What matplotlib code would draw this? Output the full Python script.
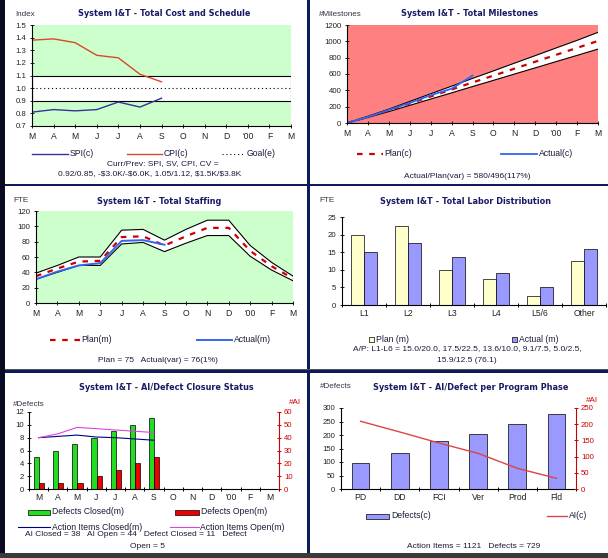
import matplotlib
matplotlib.use('Agg')
import matplotlib.pyplot as plt
from matplotlib.lines import Line2D
from matplotlib.patches import Rectangle
import numpy as np

W, H = 608, 558

months = ['M', 'A', 'M', 'J', 'J', 'A', 'S', 'O', 'N', 'D', "'00", 'F', 'M']

# cost / schedule indices, Mar-Sep
spi = [0.81, 0.83, 0.82, 0.83, 0.89, 0.85, 0.92]
cpi = [1.38, 1.39, 1.36, 1.26, 1.24, 1.11, 1.05]
goal = 1.0
goal_band = (0.9, 1.1)

# milestones (cumulative)
ms_plan = [0, 75, 155, 240, 325, 410, 496, 580, 665, 750, 835, 920, 1005]
ms_upper = [0, 83, 170, 264, 358, 451, 546, 638, 732, 825, 919, 1012, 1110]
ms_lower = [0, 68, 140, 216, 293, 369, 446, 522, 599, 675, 752, 828, 905]
ms_actual = [0, 75, 160, 245, 340, 420, 580]

# staffing (FTE)
st_plan = [35, 45, 54, 55, 86, 87, 75, 87, 98, 98, 68, 48, 32]
st_upper = [39, 49, 60, 60, 95, 96, 82, 96, 108, 108, 75, 53, 35]
st_lower = [31, 40, 49, 49, 77, 79, 67, 78, 88, 88, 61, 43, 29]
st_actual = [31, 41, 49, 52, 81, 82, 76]

# labor distribution (FTE)
labor_cats = ['L1', 'L2', 'L3', 'L4', 'L5/6', 'Other']
labor_plan = [20.0, 22.5, 10.0, 7.5, 2.5, 12.5]
labor_actual = [15.0, 17.5, 13.6, 9.1, 5.0, 15.9]

# AI / defect closure, Mar-Sep
def_closed = [5, 6, 7, 8, 9, 10, 11]
def_open = [1, 1, 1, 2, 3, 4, 5]
ai_closed = [40, 41, 42, 40.5, 40, 39, 38]
ai_open = [40, 43, 48, 47, 46, 45, 44]

# AI / defects per phase
phases = ['PD', 'DD', 'FCI', 'Ver', 'Prod', 'Fld']
phase_defects = [95, 135, 177, 203, 239, 277]
phase_ai = [209, 176, 142, 110, 64, 33]

TITLE_C = '#1a1a66'
TEXT_C = '#1a1a3a'
GREEN_BG = '#ccffcc'
SALMON_BG = '#ff8080'
PLAN_RED = '#cc0000'
ACT_BLUE = '#3366ee'

plt.rcParams['font.family'] = ['Liberation Sans', 'DejaVu Sans']

fig = plt.figure(figsize=(W / 100, H / 100), dpi=100)
fig.patch.set_facecolor('white')


def px_axes(left, top, right, bottom):
    return fig.add_axes([left / W, 1 - bottom / H, (right - left) / W, (bottom - top) / H])


def style_axes(ax, face='white', xpad=3, ypad=2.5):
    ax.set_facecolor(face)
    for s in ['top', 'right']:
        ax.spines[s].set_visible(False)
    for s in ['left', 'bottom']:
        ax.spines[s].set_linewidth(0.8)
    ax.tick_params(direction='inout', length=3, width=0.7, colors='#222222')
    ax.tick_params(axis='y', labelsize=5.6, pad=ypad)
    ax.tick_params(axis='x', labelsize=6.2, pad=xpad)


def category_ticks(ax, labels):
    n = len(labels)
    ax.set_xlim(-0.5, n - 0.5)
    ax.set_xticks(range(n))
    ax.set_xticklabels(labels)
    ax.set_xticks(np.arange(-0.5, n, 1.0), minor=True)
    ax.tick_params(axis='x', which='major', length=0)
    ax.tick_params(axis='x', which='minor', direction='inout', length=3, width=0.7)


def red_axis(ax):
    for s in ['top', 'left', 'bottom']:
        ax.spines[s].set_visible(False)
    ax.spines['right'].set_color('#cc0000')
    ax.spines['right'].set_linewidth(0.8)
    ax.tick_params(direction='inout', length=3, width=0.7, colors='#cc0000',
                   labelsize=5.6, pad=2)


# overlay for frames, titles and legends (pixel coordinates)
ov = fig.add_axes([0, 0, 1, 1])
ov.set_xlim(0, W)
ov.set_ylim(H, 0)
ov.axis('off')
ov.set_zorder(10)


def title(x, y, s):
    ov.text(x, y, s, ha='center', va='center', fontsize=5.9, fontweight='bold',
            color=TITLE_C, family='DejaVu Sans')


def label(x, y, s, ha='left', color='#333344', size=5.8):
    ov.text(x, y, s, ha=ha, va='center', fontsize=size, color=color)


def note(x, y, s, ha='center', size=6.0):
    ov.text(x, y, s, ha=ha, va='center', fontsize=size, color=TEXT_C)


def leg_line(x0, x1, y, s, **kw):
    ov.add_line(Line2D([x0, x1], [y, y], **kw))
    note(x1 + 1.5, y, s, ha='left', size=6.2)


def leg_box(x0, x1, y, h, s, color):
    ov.add_patch(Rectangle((x0, y - h / 2), x1 - x0, h, facecolor=color,
                           edgecolor='black', linewidth=0.5))
    note(x1 + 2, y, s, ha='left', size=6.2)


# ---- Total Cost and Schedule ----
ax1 = px_axes(32, 25, 291, 126)
style_axes(ax1, GREEN_BG)
ax1.axhspan(goal_band[0], goal_band[1], facecolor='white', edgecolor='black', linewidth=0.8)
ax1.axhline(goal, color='black', linestyle=(0, (1, 2.5)), linewidth=0.8)
x7 = np.arange(len(spi))
ax1.plot(x7, spi, color='#333399', linewidth=1.0)
ax1.plot(x7, cpi, color='#d9482b', linewidth=1.0)
ax1.set_xlim(0, 12)
ax1.set_ylim(0.7, 1.5)
ax1.set_yticks(np.arange(0.7, 1.51, 0.1))
ax1.set_yticklabels(['%.1f' % v for v in np.arange(0.7, 1.51, 0.1)])
ax1.set_xticks(range(13))
ax1.set_xticklabels(months)

title(164, 14, 'System I&T - Total Cost and Schedule')
label(15, 14, 'Index')
leg_line(32, 68, 154, 'SPI(c)', color='#333399', linewidth=1.0)
leg_line(127, 162, 154, 'CPI(c)', color='#d9482b', linewidth=1.0)
leg_line(222, 245, 154, 'Goal(e)', color='black', linewidth=0.8, linestyle=(0, (1, 2.5)))
note(163, 164, 'Curr/Prev: SPI, SV, CPI, CV =')
note(150, 174, r'0.92/0.85, -\$3.0K/-\$6.0K, 1.05/1.12, \$1.5K/\$3.8K')

# ---- Total Milestones ----
ax2 = px_axes(347, 25, 598, 123)
style_axes(ax2, SALMON_BG)
x13 = np.arange(13)
ax2.fill_between(x13, ms_lower, ms_upper, facecolor='white', edgecolor='none')
ax2.plot(x13, ms_upper, color='black', linewidth=0.8)
ax2.plot(x13, ms_lower, color='black', linewidth=0.8)
ax2.plot(x13, ms_plan, color=PLAN_RED, linewidth=1.6, linestyle=(0, (2.5, 3)))
ax2.plot(np.arange(len(ms_actual)), ms_actual, color=ACT_BLUE, linewidth=1.3)
ax2.set_xlim(0, 12)
ax2.set_ylim(0, 1200)
ax2.set_yticks(range(0, 1201, 200))
ax2.set_xticks(range(13))
ax2.set_xticklabels(months)

title(470, 14, 'System I&T - Total Milestones')
label(319, 14, '#Milestones')
leg_line(357, 383, 154, 'Plan(c)', color=PLAN_RED, linewidth=1.6, linestyle=(0, (2.5, 3)))
leg_line(501, 537, 154, 'Actual(c)', color=ACT_BLUE, linewidth=1.3)
note(467, 176, 'Actual/Plan(var) = 580/496(117%)')

# ---- Total Staffing ----
ax3 = px_axes(36, 211, 293, 303)
style_axes(ax3, GREEN_BG)
ax3.fill_between(x13, st_lower, st_upper, facecolor='white', edgecolor='none')
ax3.plot(x13, st_upper, color='black', linewidth=0.8)
ax3.plot(x13, st_lower, color='black', linewidth=0.8)
ax3.plot(x13, st_plan, color=PLAN_RED, linewidth=1.6, linestyle=(0, (2.5, 3)))
ax3.plot(np.arange(len(st_actual)), st_actual, color=ACT_BLUE, linewidth=1.4)
ax3.set_xlim(0, 12)
ax3.set_ylim(0, 120)
ax3.set_yticks(range(0, 121, 20))
ax3.set_xticks(range(13))
ax3.set_xticklabels(months)

title(159, 201, 'System I&T - Total Staffing')
label(13, 201, 'FTE')
leg_line(50, 80, 340, 'Plan(m)', color=PLAN_RED, linewidth=1.6, linestyle=(0, (2.5, 3)))
leg_line(197, 232, 340, 'Actual(m)', color=ACT_BLUE, linewidth=1.4)
note(158, 361, 'Plan = 75   Actual(var) = 76(1%)')

# ---- Total Labor Distribution ----
ax4 = px_axes(342, 217, 606, 305)
style_axes(ax4, 'white')
xc = np.arange(len(labor_cats))
bw = 0.29
ax4.bar(xc - bw / 2, labor_plan, bw, color='#ffffcc', edgecolor='black', linewidth=0.5)
ax4.bar(xc + bw / 2, labor_actual, bw, color='#9999ff', edgecolor='black', linewidth=0.5)
category_ticks(ax4, labor_cats)
ax4.set_ylim(0, 25)
ax4.set_yticks(range(0, 26, 5))

title(465, 201, 'System I&T - Total Labor Distribution')
label(319, 201, 'FTE')
leg_box(369, 374, 339, 5, 'Plan (m)', '#ffffcc')
leg_box(512, 517, 339, 5, 'Actual (m)', '#9999ff')
note(467, 349, 'A/P: L1-L6 = 15.0/20.0, 17.5/22.5, 13.6/10.0, 9.1/7.5, 5.0/2.5,')
note(467, 360, '15.9/12.5 (76.1)')

# ---- AI/Defect Closure Status ----
ax5 = px_axes(29, 412, 279, 489)
style_axes(ax5, 'white', ypad=2)
xd = np.arange(len(def_closed))
ax5.bar(xd - 0.12, def_closed, 0.27, color='#22dd22', edgecolor='black', linewidth=0.5)
ax5.bar(xd + 0.15, def_open, 0.27, color='#ee0000', edgecolor='black', linewidth=0.5)
category_ticks(ax5, months)
ax5.set_ylim(0, 12)
ax5.set_yticks(range(0, 13, 2))
ax5b = ax5.twinx()
ax5b.plot(xd, ai_closed, color='#000080', linewidth=0.8)
ax5b.plot(xd, ai_open, color='#dd44dd', linewidth=0.8)
ax5b.set_ylim(0, 60)
ax5b.set_yticks(range(0, 61, 10))
red_axis(ax5b)

title(166, 387, 'System I&T - AI/Defect Closure Status')
label(13, 404, '#Defects')
label(289, 403, '#AI', color='#cc0000')
leg_box(28, 50, 512, 5, 'Defects Closed(m)', '#22dd22')
leg_box(175, 199, 512, 5, 'Defects Open(m)', '#ee0000')
leg_line(18, 50, 527, 'Action Items Closed(m)', color='#000080', linewidth=0.8)
leg_line(170, 199, 527, 'Action Items Open(m)', color='#dd44dd', linewidth=0.8)
note(136, 535, 'AI Closed = 38   AI Open = 44   Defect Closed = 11   Defect')
note(147, 546, 'Open = 5')

# ---- AI/Defect per Program Phase ----
ax6 = px_axes(341, 408, 576, 489)
style_axes(ax6, 'white')
xp = np.arange(len(phases))
ax6.bar(xp, phase_defects, 0.45, color='#9999ff', edgecolor='black', linewidth=0.5)
category_ticks(ax6, phases)
ax6.set_ylim(0, 300)
ax6.set_yticks(range(0, 301, 50))
ax6b = ax6.twinx()
ax6b.plot(xp, phase_ai, color='#dd4444', linewidth=1.0)
ax6b.set_ylim(0, 250)
ax6b.set_yticks(range(0, 251, 50))
red_axis(ax6b)

title(471, 387, 'System I&T - AI/Defect per Program Phase')
label(320, 387, '#Defects')
label(586, 400, '#AI', color='#cc0000')
leg_box(366, 389, 516, 5, 'Defects(c)', '#9999ff')
leg_line(547, 567, 516, 'AI(c)', color='#dd4444', linewidth=1.0)
note(474, 546, 'Action Items = 1121   Defects = 729')

# ---- panel frames ----
ov.add_patch(Rectangle((0, 0), 5, H, facecolor='#0a0a24', edgecolor='none'))
ov.add_patch(Rectangle((306.5, 0), 3.5, H, facecolor='#0d1a5c', edgecolor='none'))
ov.add_patch(Rectangle((5, 183.5), W, 2.5, facecolor='#0d1a5c', edgecolor='none'))
ov.add_patch(Rectangle((5, 368.5), W, 1.5, facecolor='#555555', edgecolor='none'))
ov.add_patch(Rectangle((5, 370), W, 2.5, facecolor='#0d1a5c', edgecolor='none'))
ov.add_patch(Rectangle((0, 553), W, 5, facecolor='#3a3a3a', edgecolor='none'))

fig.savefig('out.png', dpi=100, facecolor=fig.get_facecolor())
